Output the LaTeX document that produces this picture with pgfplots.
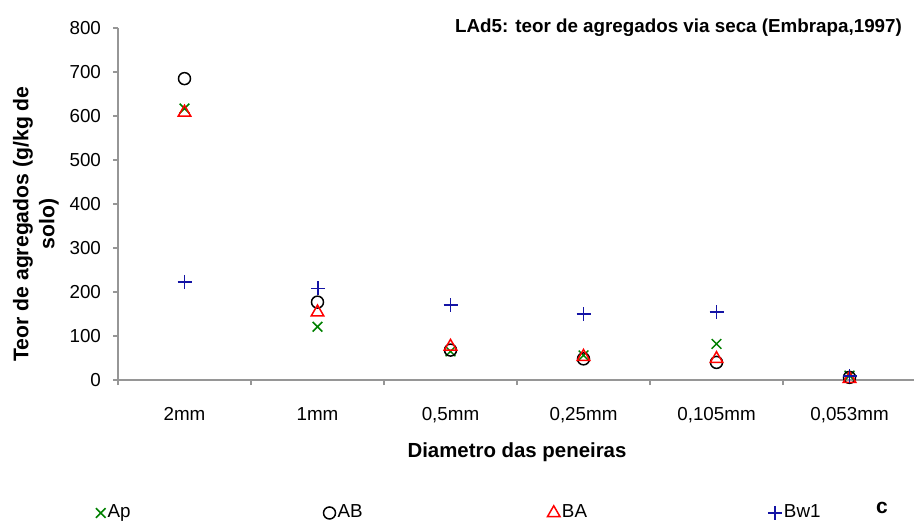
\documentclass[border=0pt]{standalone}
\usepackage{pgfplots}
\pgfplotsset{compat=1.18}
\usepackage{fontspec}
\setmainfont{Liberation Sans}
\definecolor{apgreen}{RGB}{0,128,0}
\definecolor{bwnavy}{RGB}{20,20,165}
\definecolor{bared}{RGB}{255,0,0}
\definecolor{axgray}{RGB}{150,150,150}
\begin{document}
\begin{tikzpicture}
\useasboundingbox (0,0) rectangle (457pt,262.5pt);
\begin{axis}[
  at={(59pt,72.5pt)}, anchor=south west,
  scale only axis, width=399pt, height=176pt,
  clip=false,
  xmin=-0.5, xmax=5.5, ymin=0, ymax=800,
  axis lines*=left,
  axis line style={axgray, line width=0.7pt},
  every tick/.style={axgray, line width=0.7pt},
  tick align=outside,
  xtick={0,1,2,3,4,5},
  xticklabels={2mm,1mm,{0,5mm},{0,25mm},{0,105mm},{0,053mm}},
  major x tick style={draw=none},
  minor xtick={-0.5,0.5,1.5,2.5,3.5,4.5,5.5},
  minor tick length=2.5pt,
  major tick length=2.5pt,
  ytick={0,100,...,800},
  /pgf/number format/assume math mode=true,
  ticklabel style={font=\fontsize{9.4}{11}\selectfont, text=black},
  xticklabel style={yshift=-7.5pt},
  yticklabel style={xshift=-2.5pt},
  legend columns=4,
  legend image code/.code={\draw[#1, only marks] plot coordinates {(0pt,0pt)};},
  legend style={at={(-0.0282,-0.3778)}, anchor=west, draw=none, fill=none,
    inner sep=0pt, font=\fontsize{9.4}{11}\selectfont,
    nodes={inner sep=1pt}, /tikz/every even column/.append style={column sep=0pt}},
]
\addplot[only marks, apgreen, mark=x, mark size=3.4pt, line width=0.75pt,
  mark options={draw=apgreen}]
  coordinates {(0,617) (1,121) (2,65) (3,56) (4,82) (5,10)};
\addlegendentry{\makebox[107pt][l]{Ap}}
\addplot[only marks, black, mark=o, mark size=3pt, line width=0.75pt]
  coordinates {(0,685) (1,177) (2,68) (3,48) (4,40) (5,6)};
\addlegendentry{\makebox[104pt][l]{AB}}
\addplot[only marks, bared, mark=triangle, mark size=3.6pt, line width=0.75pt,
  mark options={draw=bared}]
  coordinates {(0,608) (1,154) (2,76) (3,53) (4,48) (5,3)};
\addlegendentry{\makebox[102pt][l]{BA}}
\addplot[only marks, bwnavy, mark=+, mark size=3.5pt, line width=0.75pt,
  mark options={draw=bwnavy}]
  coordinates {(0,223) (1.005,208) (2,170) (3,150) (4,154) (5,9)};
\addlegendentry{Bw1}
\end{axis}
\node[font=\fontsize{9.4}{11}\bfseries\selectfont] at (339.25pt,248.5pt)
  {LAd5: teor de agregados via seca (Embrapa,1997)};
\node[font=\fontsize{10.2}{12}\bfseries\selectfont] at (258.5pt,36.5pt)
  {Diametro das peneiras};
\node[font=\fontsize{10.6}{13}\bfseries\selectfont, rotate=90, align=center]
  at (18pt,150.5pt) {Teor de agregados (g/kg de\\solo)};
\node[font=\fontsize{10.5}{12}\bfseries\selectfont] at (441pt,8.5pt) {c};
\end{tikzpicture}
\end{document}
